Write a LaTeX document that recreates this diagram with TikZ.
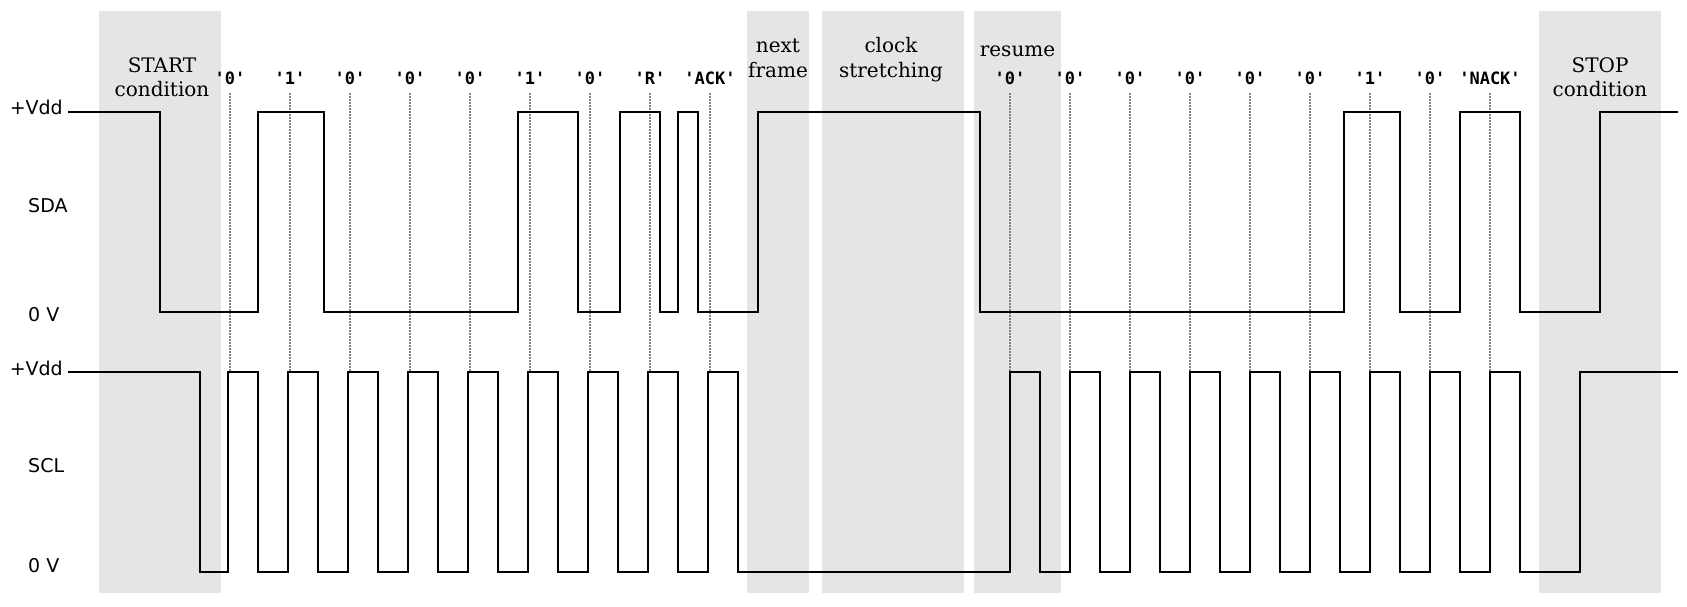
\documentclass[tikz,border=0pt]{standalone}
\usepackage{fontspec}
\setmainfont{DejaVu Serif}
\setsansfont{DejaVu Sans}
\setmonofont{DejaVu Sans Mono}
\begin{document}
\begin{tikzpicture}[x=1pt,y=-1pt,
  band/.style={fill=black!10,draw=none},
  sig/.style={line width=2pt,line join=miter},
  guide/.style={draw=black!50,line width=1.6pt,dash pattern=on 1.5pt off 1.5pt},
  lvl/.style={font=\sffamily\fontsize{19}{22}\selectfont,inner sep=0pt},
  note/.style={font=\rmfamily\fontsize{20}{24}\selectfont,inner sep=0pt,anchor=base},
  bit/.style={font=\ttfamily\bfseries\fontsize{17}{20}\selectfont,inner sep=0pt,anchor=base}]
\useasboundingbox (0,0) rectangle (1687,606);
% shaded bands
\fill[band] (99,11) rectangle (221,593);
\fill[band] (747,11) rectangle (809,593);
\fill[band] (822,11) rectangle (964,593);
\fill[band] (974,11) rectangle (1061,593);
\fill[band] (1539,11) rectangle (1661,593);
% bit labels and guides
\foreach \t [count=\i] in {'0','1','0','0','0','1','0','R','ACK'}{
  \pgfmathsetmacro{\xx}{230+60*(\i-1)}
  \node[bit] (b\i) at (\xx,84) {\t};
  \coordinate (bg\i) at (\xx,371);
  \draw[guide] (\xx,93) -- (bg\i);
}
\foreach \t [count=\i] in {'0','0','0','0','0','0','1','0','NACK'}{
  \pgfmathsetmacro{\xx}{1010+60*(\i-1)}
  \node[bit] (c\i) at (\xx,84) {\t};
  \coordinate (cg\i) at (\xx,371);
  \draw[guide] (\xx,93) -- (cg\i);
}
% SDA
\draw[sig] (68,112) -- (160,112) -- (160,312) -- (258,312) -- (258,112) -- (324,112)
  -- (324,312) -- (518,312) -- (518,112) -- (578,112) -- (578,312) -- (620,312)
  -- (620,112) -- (660,112) -- (660,312) -- (678,312) -- (678,112) -- (698,112)
  -- (698,312) -- (758,312) -- (758,112) -- (980,112) -- (980,312) -- (1344,312)
  -- (1344,112) -- (1400,112) -- (1400,312) -- (1460,312) -- (1460,112) -- (1520,112)
  -- (1520,312) -- (1600,312) -- (1600,112) -- (1678,112);
% SCL
\draw[sig] (68,372) -- (200,372) -- (200,572)
  -- (228,572) -- (228,372) -- (258,372) -- (258,572)
  -- (288,572) -- (288,372) -- (318,372) -- (318,572)
  -- (348,572) -- (348,372) -- (378,372) -- (378,572)
  -- (408,572) -- (408,372) -- (438,372) -- (438,572)
  -- (468,572) -- (468,372) -- (498,372) -- (498,572)
  -- (528,572) -- (528,372) -- (558,372) -- (558,572)
  -- (588,572) -- (588,372) -- (618,372) -- (618,572)
  -- (648,572) -- (648,372) -- (678,372) -- (678,572)
  -- (708,572) -- (708,372) -- (738,372) -- (738,572)
  -- (1010,572) -- (1010,372) -- (1040,372) -- (1040,572)
  -- (1070,572) -- (1070,372) -- (1100,372) -- (1100,572)
  -- (1130,572) -- (1130,372) -- (1160,372) -- (1160,572)
  -- (1190,572) -- (1190,372) -- (1220,372) -- (1220,572)
  -- (1250,572) -- (1250,372) -- (1280,372) -- (1280,572)
  -- (1310,572) -- (1310,372) -- (1340,372) -- (1340,572)
  -- (1370,572) -- (1370,372) -- (1400,372) -- (1400,572)
  -- (1430,572) -- (1430,372) -- (1460,372) -- (1460,572)
  -- (1490,572) -- (1490,372) -- (1520,372) -- (1520,572)
  -- (1580,572) -- (1580,372) -- (1678,372);
% level labels
\node[lvl,anchor=base east] (vdd1) at (63,114) {+Vdd};
\node[lvl,anchor=base west] (sda) at (28,212) {SDA};
\node[lvl,anchor=base west] (gnd1) at (28,321) {0 V};
\node[lvl,anchor=base east] (vdd2) at (63,375) {+Vdd};
\node[lvl,anchor=base west] (scl) at (28,472) {SCL};
\node[lvl,anchor=base west] (gnd2) at (28,572) {0 V};
% notes
\node[note] (st1) at (162,72.7) {START};
\node[note] (st2) at (162,96.7) {condition};
\node[note] (nf1) at (778,52.3) {next};
\node[note] (nf2) at (778,77.3) {frame};
\node[note] (cs1) at (891,52.3) {clock};
\node[note] (cs2) at (891,77.3) {stretching};
\node[note] (rs) at (1017.5,56.7) {resume};
\node[note] (sp1) at (1600,72.7) {STOP};
\node[note] (sp2) at (1600,96.7) {condition};
\end{tikzpicture}
\end{document}
